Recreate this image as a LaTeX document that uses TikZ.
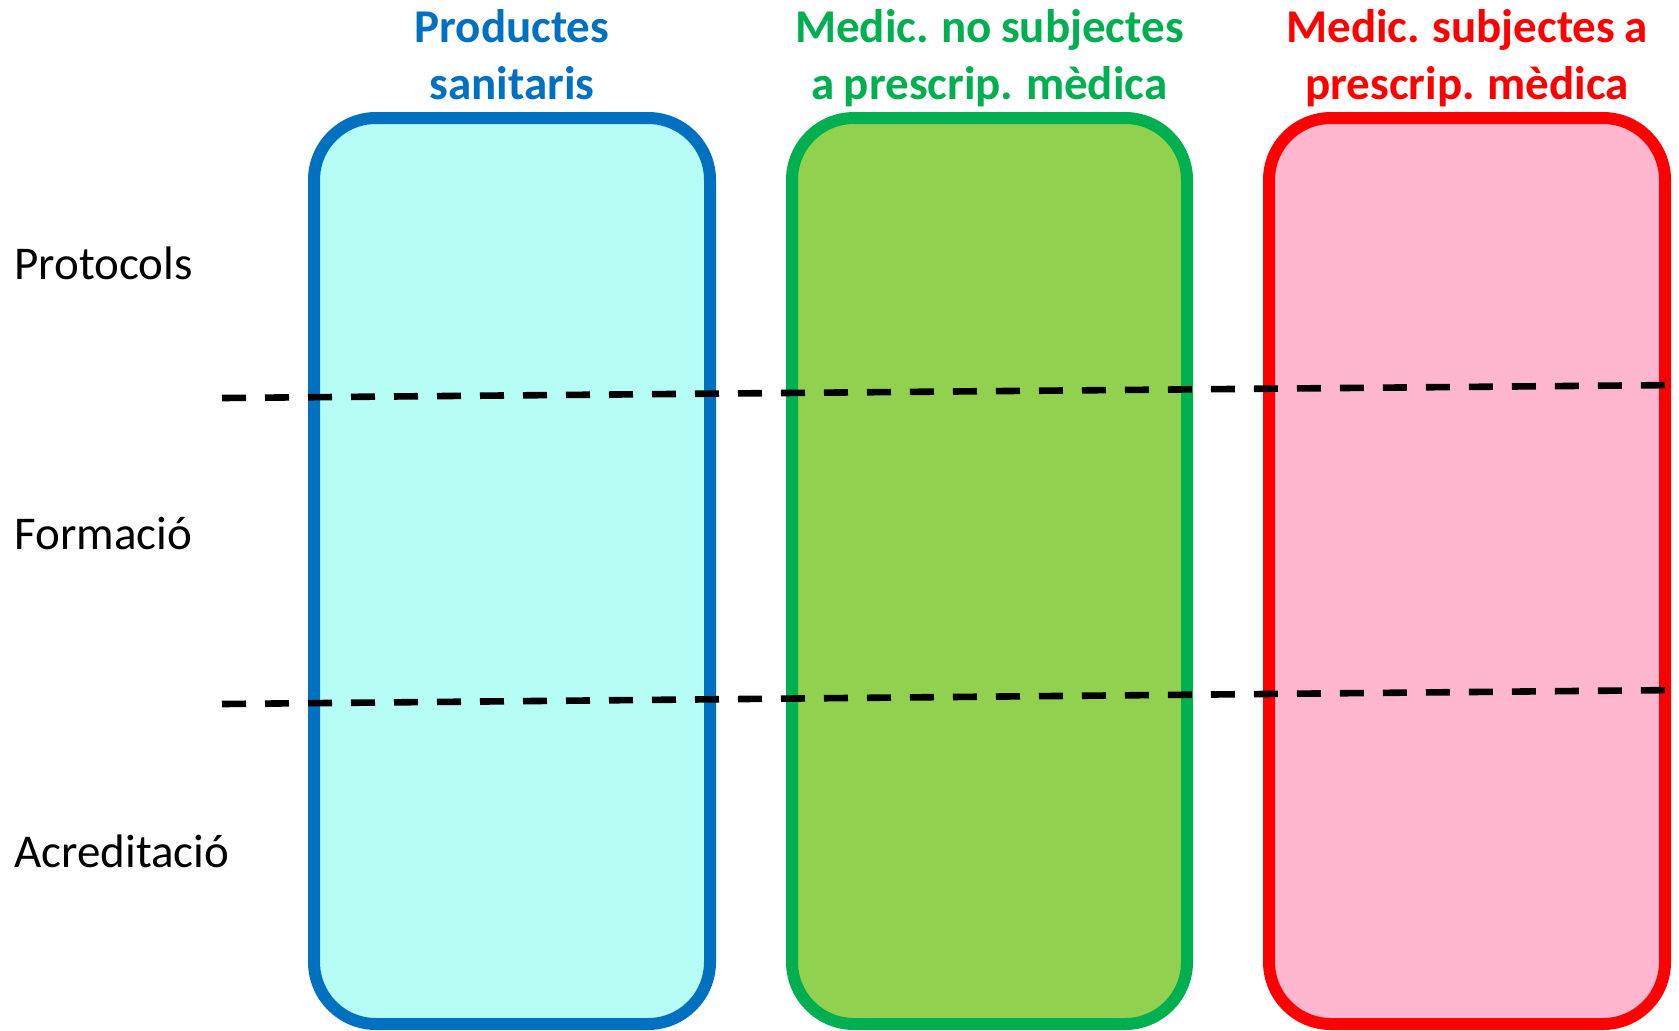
\documentclass[tikz,border=0pt]{standalone}
\usepackage{fontspec}
\setmainfont{Carlito}[WordSpace=0.85]
\definecolor{bstroke}{HTML}{0070C0}
\definecolor{bfill}{HTML}{B6FDF5}
\definecolor{gstroke}{HTML}{00B050}
\definecolor{gfill}{HTML}{92D050}
\definecolor{rstroke}{HTML}{FF0000}
\definecolor{rfill}{HTML}{FFB6CE}
\tikzset{
  colbox/.style={line width=6pt, rounded corners=31pt},
  head/.style={font=\bfseries\fontsize{23.5}{28.5}\selectfont, anchor=base, inner sep=0pt},
  rowlab/.style={font=\fontsize{23.5}{28.5}\selectfont, anchor=base west, inner sep=0pt},
  divider/.style={line width=3.3pt, dash pattern=on 12pt off 9.5pt}
}
\begin{document}
\begin{tikzpicture}[x=0.5pt, y=-0.5pt]
\useasboundingbox (0,0) rectangle (1679,1030);
\fill[white] (0,0) rectangle (1679,1030);
% column boxes
\draw[colbox, draw=bstroke, fill=bfill] (314,118) rectangle (710,1024);
\draw[colbox, draw=gstroke, fill=gfill] (792,118) rectangle (1187,1024);
\draw[colbox, draw=rstroke, fill=rfill] (1269,118) rectangle (1665,1024);
% headers
\node[head, text=bstroke] (h1a) at (512,42) {Productes};
\node[head, text=bstroke] (h1b) at (512,99) {sanitaris};
\node[head, text=gstroke] (h2a) at (989.5,42) {Medic. no subjectes};
\node[head, text=gstroke] (h2b) at (989.5,99) {a prescrip. mèdica};
\node[head, text=rstroke] (h3a) at (1467,42) {Medic. subjectes a};
\node[head, text=rstroke] (h3b) at (1467,99) {prescrip. mèdica};
% row labels
\node[rowlab] (r1) at (14,279) {Protocols};
\node[rowlab] (r2) at (14,549) {Formació};
\node[rowlab] (r3) at (14,867) {Acreditació};
% dividers
\coordinate (d1a) at (222,398);
\coordinate (d1b) at (1679,385);
\coordinate (d2a) at (222,704);
\coordinate (d2b) at (1679,690);
\draw[divider] (d1a) -- (d1b);
\draw[divider] (d2a) -- (d2b);
\end{tikzpicture}
\end{document}
